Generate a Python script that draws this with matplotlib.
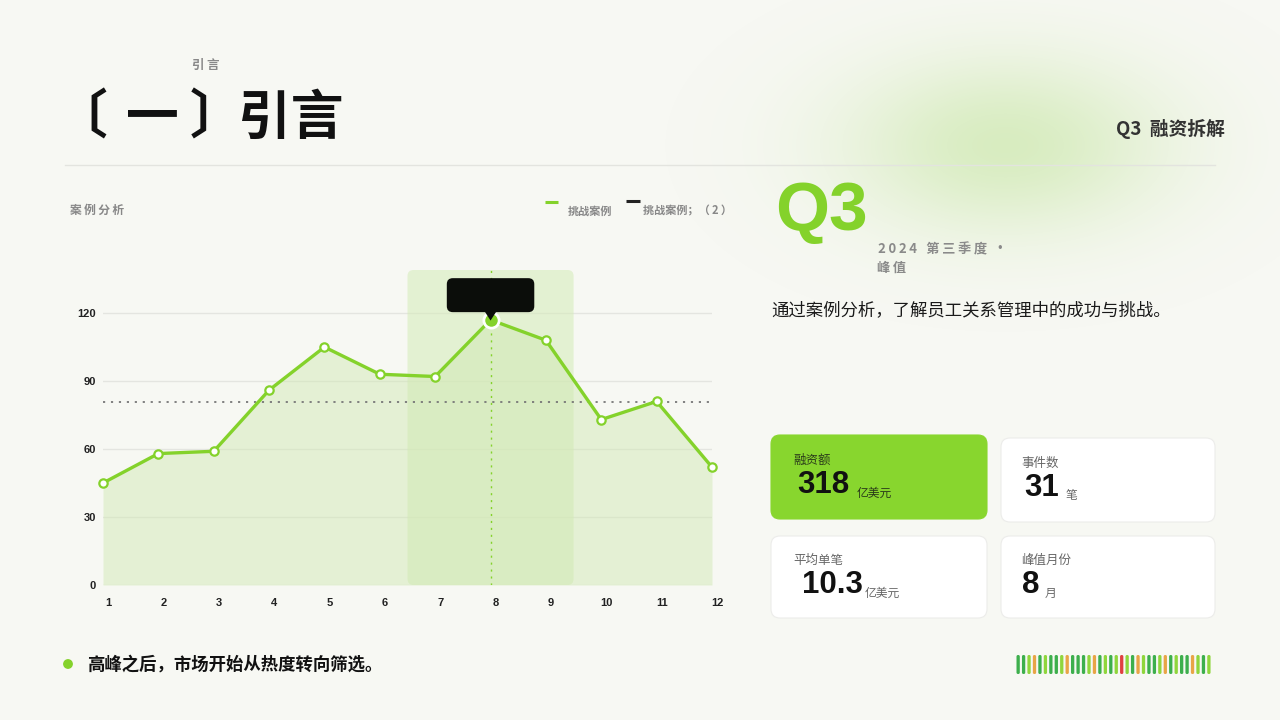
import matplotlib.pyplot as plt
import matplotlib.transforms as mtransforms
from matplotlib.patches import FancyBboxPatch, Polygon, Circle
import numpy as np

plt.rcParams['font.family'] = ['Noto Sans CJK SC', 'DejaVu Sans']
plt.rcParams['axes.unicode_minus'] = False

# ---- data ----
months = [1, 2, 3, 4, 5, 6, 7, 8, 9, 10, 11, 12]
month_labels = ['1', '2', '3', '4', '5', '6', '7', '8', '9', '10', '11', '12']
cases = [45, 58, 59, 86, 105, 93, 92, 117, 108, 73, 81, 52]
y_ticks = [0, 30, 60, 90, 120]
highlight = (6.5, 9.5)
peak_month = 8

kpi_labels = ['融资额', '事件数', '平均单笔', '峰值月份']
kpi_values = ['318', '31', '10.3', '8']
kpi_units = ['亿美元', '笔', '亿美元', '月']

bar_codes = list('DDLODLDDLODDDLODLDLRLDOLDDLODLDDOLDL')

BG = '#f7f8f3'
GREEN = '#84d22b'
CARD_GREEN = '#88d62e'
bar_colors = {'D': '#3daf4c', 'L': '#8fd63c', 'O': '#e8a546', 'R': '#e04040'}

fig = plt.figure(figsize=(12.8, 7.2), dpi=100, facecolor=BG)

# background / overlay axes in pixel coordinates
bg = fig.add_axes([0, 0, 1, 1], zorder=0)
bg.set_xlim(0, 1280)
bg.set_ylim(720, 0)
bg.axis('off')
bg.set_facecolor(BG)

# soft green glow top-right
gx, gy = np.meshgrid(np.arange(1280), np.arange(720))
d = ((gx - 1005) / 210.0) ** 2 + ((gy - 145) / 115.0) ** 2
glow = np.zeros((720, 1280, 4))
glow[..., 0] = 0x9c / 255
glow[..., 1] = 0xd6 / 255
glow[..., 2] = 0x5e / 255
glow[..., 3] = 0.34 * np.exp(-d * 1.7)
bg.imshow(glow, extent=(0, 1280, 720, 0), aspect='auto', zorder=0, interpolation='bilinear')

# header
bg.text(192, 65, '引\u2009言', fontsize=9, color='#888888', fontweight='bold', va='center')
for s, x in [('〔', 54), ('一', 126), ('〕', 190), ('引言', 238)]:
    bg.text(x, 118, s, fontsize=38, color='#111111', fontweight='bold', va='center')
bg.text(1225, 129, 'Q3  融资拆解', fontsize=13.5, color='#333333', fontweight='bold',
        va='center', ha='right')
bg.plot([65, 1215], [165, 165], color='#e3e4df', lw=1, zorder=1)

# chart title + legend
bg.text(70, 210, '案\u2009例\u2009分\u2009析', fontsize=8.5, color='#888888', fontweight='bold', va='center')
bg.plot([545, 558], [202, 202], color=GREEN, lw=2.2, solid_capstyle='butt')
bg.text(568, 211, '挑战案例', fontsize=8, color='#888888', fontweight='bold', va='center')
bg.plot([626, 640], [201, 201], color='#222222', lw=2.2, solid_capstyle='butt')
bg.text(643, 211, '挑战案例；（\u20092\u2009）', fontsize=8, color='#888888', fontweight='bold', va='center')

# Q3 block
bg.text(775, 212, 'Q3', fontsize=50, color=GREEN, fontweight='bold', va='center',
        family=['Liberation Sans', 'DejaVu Sans'])
bg.text(878, 249, '2\u20090\u20092\u20094\u2002\u2009第\u2009三\u2009季\u2009度\u2002·', fontsize=9.5,
        color='#8a8a8a', fontweight='bold', va='center')
bg.text(877, 268, '峰\u2009值', fontsize=9.5, color='#8a8a8a', fontweight='bold', va='center')
bg.text(771, 310, '通过案例分析，了解员工关系管理中的成功与挑战。', fontsize=12.5,
        color='#1a1a1a', va='center')

# KPI cards
cards = [(771, 435, 216, 84), (1001, 438, 214, 84), (771, 536, 216, 82), (1001, 536, 214, 82)]
label_pos = [(793, 460), (1021, 463), (793, 560), (1021, 560)]
value_pos = [(797, 485), (1024, 488), (802, 585), (1022, 585)]
unit_pos = [(857, 493), (1066, 495), (865, 593), (1045, 593)]
for i, (x, y, w, h) in enumerate(cards):
    fc = CARD_GREEN if i == 0 else 'white'
    ec = CARD_GREEN if i == 0 else '#ececea'
    bg.add_patch(FancyBboxPatch((x, y), w, h, boxstyle='round,pad=0,rounding_size=9',
                                fc=fc, ec=ec, lw=0.8, zorder=2))
    lab_c = '#2a3a1a' if i == 0 else '#666666'
    bg.text(*label_pos[i], kpi_labels[i], fontsize=9, color=lab_c, va='center', zorder=3)
    bg.text(*value_pos[i], kpi_values[i], fontsize=22.5, color='#111111', fontweight='bold',
            va='center', zorder=3, family=['Liberation Sans', 'DejaVu Sans'])
    bg.text(*unit_pos[i], kpi_units[i], fontsize=8.5, color='#2a3a1a' if i == 0 else '#666666',
            va='center', zorder=3)

# bottom note
bg.add_patch(Circle((68, 664), 4.2, color=GREEN, zorder=2))
bg.text(87, 665, '高峰之后，市场开始从热度转向筛选。', fontsize=12.5, color='#111111',
        fontweight='bold', va='center')

# barcode
bx0, bstep = 1016.5, 5.45
for i, c in enumerate(bar_codes):
    bg.add_patch(FancyBboxPatch((bx0 + i * bstep, 655), 3.3, 19,
                                boxstyle='round,pad=0,rounding_size=1.5',
                                fc=bar_colors[c], ec='none', zorder=2))

# ---- main chart ----
ax = fig.add_axes([103 / 1280, 1 - 585 / 720, 609 / 1280, 315 / 720], zorder=1)
ax.set_facecolor('none')
ax.set_xlim(1, 12)
ax.set_ylim(0, 139)
for s in ax.spines.values():
    s.set_visible(False)

ax.set_yticks(y_ticks)
ax.set_yticklabels([str(v) for v in y_ticks])
ax.set_xticks(months)
ax.set_xticklabels(month_labels)
ax.tick_params(length=0, labelsize=8, labelcolor='#222222', pad=5)
ax.tick_params(axis='x', pad=9)
for lab in ax.get_xticklabels() + ax.get_yticklabels():
    lab.set_fontweight('bold')
    lab.set_family(['Liberation Sans Narrow', 'Liberation Sans', 'DejaVu Sans'])
shift = mtransforms.ScaledTranslation(5 / 100, 0, fig.dpi_scale_trans)
for lab in ax.get_xticklabels():
    lab.set_transform(lab.get_transform() + shift)

for v in y_ticks:
    ax.axhline(v, color='#e4e5e0', lw=1, zorder=1)

# highlight band
xu = 11 / 609.0
yu = 139 / 315.0
ax.add_patch(FancyBboxPatch((highlight[0], 0), highlight[1] - highlight[0], 139,
                            boxstyle=f'round,pad=0,rounding_size={6 * xu}',
                            mutation_aspect=yu / xu, fc='#d4ecb8', ec='none', alpha=0.55, zorder=1))

ax.fill_between(months, cases, 0, color='#cfe8b0', alpha=0.45, lw=0, zorder=2)

mean_v = np.mean(cases)
ax.axhline(mean_v, color='#777777', lw=1.3, ls=(0, (1.2, 3.2)), zorder=3)
ax.axvline(peak_month, color=GREEN, lw=1, ls=(0, (1.5, 3.5)), zorder=3)

ax.plot(months, cases, color=GREEN, lw=2.4, zorder=4, marker='o', ms=6,
        mfc='white', mec=GREEN, mew=1.6, clip_on=False)
peak_v = cases[months.index(peak_month)]
ax.plot([peak_month], [peak_v], marker='o', ms=11, mfc=GREEN, mec='white', mew=2, zorder=6)

# tooltip box
bw = 0.79
ax.add_patch(FancyBboxPatch((peak_month - bw, peak_v + 3.4), 2 * bw, 15,
                            boxstyle=f'round,pad=0,rounding_size={6 * xu}',
                            mutation_aspect=yu / xu, fc='#0b0d0a', ec='none', zorder=7,
                            clip_on=False))
ax.add_patch(Polygon([[peak_month - 0.1, peak_v + 3.5], [peak_month + 0.1, peak_v + 3.5],
                      [peak_month, peak_v - 0.3]], closed=True, fc='#0b0d0a', ec='none',
                     zorder=7, clip_on=False))

fig.savefig('out.png', dpi=100, facecolor=BG)
